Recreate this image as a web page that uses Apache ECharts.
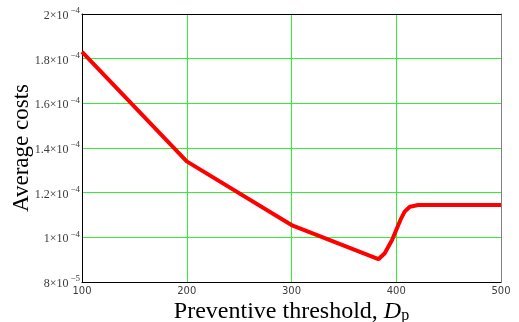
<!DOCTYPE html>
<html>
<head>
<meta charset="utf-8">
<script src="https://cdn.jsdelivr.net/npm/echarts@6/dist/echarts.min.js"></script>
<style>html,body{margin:0;padding:0;background:#fff;}#c{width:519px;height:322px;}</style>
</head>
<body>
<div id="c"></div>
<script>
// Data
var thresholds = [100, 200, 300, 383, 389, 396, 400, 404, 408, 413, 421, 450, 500];
var avgCosts = [1.83e-4, 1.34e-4, 1.055e-4, 9.02e-5, 9.29e-5, 9.88e-5, 1.033e-4, 1.078e-4, 1.115e-4, 1.137e-4, 1.145e-4, 1.145e-4, 1.145e-4];
var yTickValues = [8e-5, 1e-4, 1.2e-4, 1.4e-4, 1.6e-4, 1.8e-4, 2e-4];
var yTickMantissa = ['8', '1', '1.2', '1.4', '1.6', '1.8', '2'];
var yTickExponent = ['\u22125', '\u22124', '\u22124', '\u22124', '\u22124', '\u22124', '\u22124'];
var xTickLabels = ['100', '200', '300', '400', '500'];

var chart = echarts.init(document.getElementById('c'), null, {renderer: 'canvas'});
var data = thresholds.map(function (x, i) { return [x, avgCosts[i]]; });
var serif = '"Liberation Serif", "Times New Roman", serif';

chart.setOption({
  animation: false,
  backgroundColor: '#fff',
  grid: {left: 82, right: 18, top: 14, bottom: 40, containLabel: false, outerBoundsMode: 'none'},
  xAxis: [{
    type: 'value', min: 100, max: 500, interval: 100,
    axisLine: {show: true, onZero: false, lineStyle: {color: '#000', width: 1}},
    axisTick: {show: false},
    splitLine: {show: true, lineStyle: {color: '#33ee33', width: 1}},
    axisLabel: {
      color: '#3c3c3c', fontFamily: 'Verdana, "DejaVu Sans", sans-serif', fontSize: 10, margin: 4,
      formatter: function (v) { var i = Math.round((v - 100) / 100); return xTickLabels[i] || ''; }
    },
    name: '{n|Preventive threshold, }{d|D}{p|p}',
    nameLocation: 'middle', nameGap: 18, nameMoveOverlap: false,
    nameTextStyle: {
      verticalAlign: 'top',
      rich: {
        n: {fontFamily: serif, fontSize: 24, color: '#000'},
        d: {fontFamily: serif, fontSize: 24, fontStyle: 'italic', color: '#000'},
        p: {fontFamily: serif, fontSize: 16, color: '#000', verticalAlign: 'bottom', padding: [8, 0, 0, 0]}
      }
    }
  }, {
    type: 'value', min: 100, max: 500, position: 'top',
    axisLine: {show: true, onZero: false, lineStyle: {color: '#000', width: 1}},
    axisTick: {show: false}, axisLabel: {show: false}, splitLine: {show: false}
  }],
  yAxis: [{
    type: 'value', min: 8e-5, max: 2e-4, interval: 2e-5,
    axisLine: {show: true, onZero: false, lineStyle: {color: '#000', width: 1}},
    axisTick: {show: false},
    splitLine: {show: true, lineStyle: {color: '#33ee33', width: 1}},
    axisLabel: {
      margin: 2,
      formatter: function (v) {
        var best = 0, bd = Infinity;
        for (var i = 0; i < yTickValues.length; i++) {
          var d = Math.abs(yTickValues[i] - v);
          if (d < bd) { bd = d; best = i; }
        }
        return '{m|' + yTickMantissa[best] + '\u00d710}{e|' + yTickExponent[best] + '}';
      },
      rich: {
        m: {fontFamily: serif, fontSize: 12, color: '#3c3c3c', padding: [4, 0, 0, 0]},
        e: {fontFamily: serif, fontSize: 9, color: '#3c3c3c', padding: [0, 0, 6, 2]}
      }
    },
    name: 'Average costs',
    nameLocation: 'middle', nameGap: 49, nameMoveOverlap: false,
    nameTextStyle: {fontFamily: serif, fontSize: 23, color: '#000'}
  }, {
    type: 'value', min: 8e-5, max: 2e-4, position: 'right',
    axisLine: {show: true, onZero: false, lineStyle: {color: '#808080', width: 1}},
    axisTick: {show: false}, axisLabel: {show: false}, splitLine: {show: false}
  }],
  series: [{
    type: 'line', data: data, showSymbol: false, smooth: false,
    xAxisIndex: 0, yAxisIndex: 0,
    lineStyle: {color: '#ff0000', width: 4},
    itemStyle: {color: '#ff0000'}
  }]
});
</script>
</body>
</html>
